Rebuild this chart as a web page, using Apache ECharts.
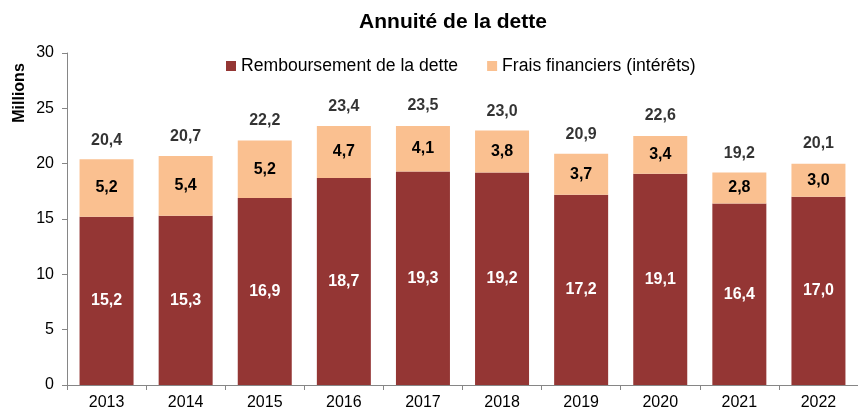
<!DOCTYPE html>
<html>
<head>
<meta charset="utf-8">
<script src="https://cdn.jsdelivr.net/npm/echarts@6/dist/echarts.min.js"></script>
<style>
  html, body { margin: 0; padding: 0; background: #fff; }
  #chart { width: 858px; height: 412px; }
</style>
</head>
<body>
<div id="chart"></div>
<script>
// Annual debt service, in millions
const years = ['2013', '2014', '2015', '2016', '2017', '2018', '2019', '2020', '2021', '2022'];
const remboursement = [15.2, 15.3, 16.9, 18.7, 19.3, 19.2, 17.2, 19.1, 16.4, 17.0];
const fraisFinanciers = [5.2, 5.4, 5.2, 4.7, 4.1, 3.8, 3.7, 3.4, 2.8, 3.0];
const totals = [20.4, 20.7, 22.2, 23.4, 23.5, 23.0, 20.9, 22.6, 19.2, 20.1];
const yTicks = [0, 5, 10, 15, 20, 25, 30];

const FONT = '"Liberation Sans", Arial, sans-serif';
const fmt = v => v.toFixed(1).replace('.', ',');

const chart = echarts.init(document.getElementById('chart'), null, { renderer: 'canvas' });

chart.setOption({
  animation: false,
  textStyle: { fontFamily: FONT },
  title: {
    text: 'Annuité de la dette',
    left: 448,
    textAlign: 'center',
    top: 7,
    textStyle: { fontFamily: FONT, fontSize: 21, fontWeight: 'bold', color: '#000' }
  },
  legend: {
    top: 52,
    left: 221,
    itemWidth: 10,
    itemHeight: 10,
    itemGap: 29,
    icon: 'rect',
    textStyle: { fontFamily: FONT, fontSize: 17.6, color: '#000' },
    data: ['Remboursement de la dette', 'Frais financiers (intérêts)']
  },
  graphic: [{
    type: 'text',
    x: 20,
    y: 93,
    rotation: Math.PI / 2,
    style: {
      text: 'Millions',
      fontFamily: FONT,
      fontSize: 16,
      fontWeight: 'bold',
      fill: '#000',
      align: 'center',
      verticalAlign: 'middle'
    }
  }],
  grid: { left: 67, top: 53, width: 800, height: 332, containLabel: false },
  xAxis: {
    type: 'category',
    data: years,
    axisLine: { lineStyle: { color: '#868686', width: 1 } },
    axisTick: { show: true, length: 5, lineStyle: { color: '#868686' } },
    axisLabel: { fontFamily: FONT, fontSize: 16, color: '#000', margin: 10 }
  },
  yAxis: {
    type: 'value',
    min: yTicks[0],
    max: yTicks[yTicks.length - 1],
    interval: yTicks[1] - yTicks[0],
    splitLine: { show: false },
    axisLine: { show: true, lineStyle: { color: '#868686', width: 1 } },
    axisTick: { show: true, length: 5, lineStyle: { color: '#868686' } },
    axisLabel: { fontFamily: FONT, fontSize: 16, color: '#000', margin: 13 }
  },
  series: [
    {
      name: 'Remboursement de la dette',
      type: 'bar',
      stack: 'annuite',
      data: remboursement,
      barWidth: 54,
      itemStyle: { color: '#943634' },
      label: {
        show: true,
        position: 'inside',
        formatter: p => fmt(p.value),
        fontFamily: FONT,
        fontSize: 16,
        fontWeight: 'bold',
        color: '#fff'
      }
    },
    {
      name: 'Frais financiers (intérêts)',
      type: 'bar',
      stack: 'annuite',
      data: fraisFinanciers,
      barWidth: 54,
      itemStyle: { color: '#FAC090' },
      label: {
        show: true,
        position: 'inside',
        formatter: p => fmt(p.value),
        fontFamily: FONT,
        fontSize: 16,
        fontWeight: 'bold',
        color: '#000'
      }
    },
    {
      name: 'Total',
      type: 'scatter',
      data: totals,
      symbolSize: 0,
      silent: true,
      itemStyle: { color: 'transparent' },
      label: {
        show: true,
        position: 'top',
        distance: 11,
        formatter: p => fmt(p.value),
        fontFamily: FONT,
        fontSize: 16,
        fontWeight: 'bold',
        color: '#000'
      }
    }
  ]
});
</script>
</body>
</html>
